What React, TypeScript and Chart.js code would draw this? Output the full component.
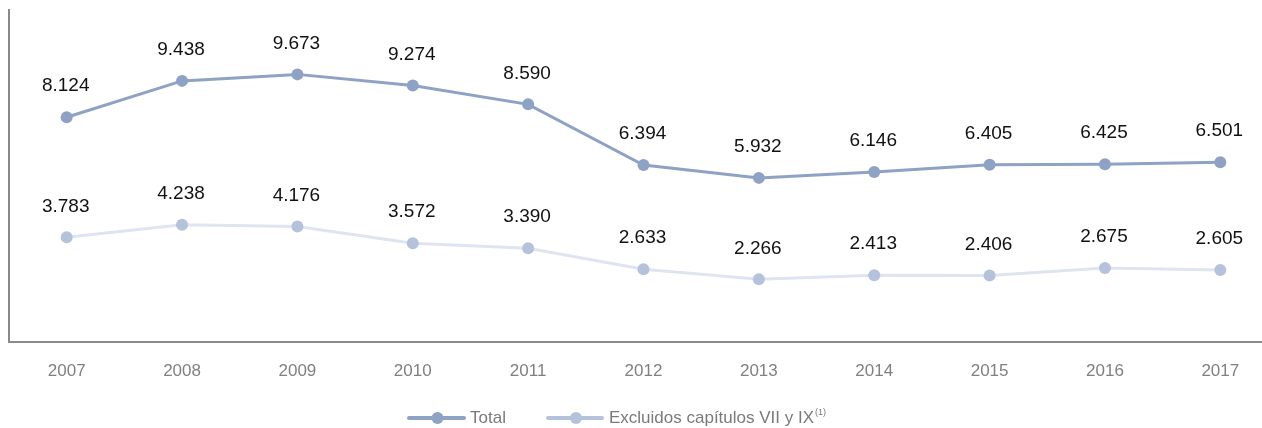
import React, { useEffect, useRef } from "react";
import { Chart, registerables } from "chart.js";

Chart.register(...registerables);

const years = ["2007", "2008", "2009", "2010", "2011", "2012", "2013", "2014", "2015", "2016", "2017"];
const totalValues = [8124, 9438, 9673, 9274, 8590, 6394, 5932, 6146, 6405, 6425, 6501];
const excludedValues = [3783, 4238, 4176, 3572, 3390, 2633, 2266, 2413, 2406, 2675, 2605];
const seriesNames = ["Total", "Excluidos capítulos VII y IX"];
const footnoteMark = "(1)";

const TOTAL_COLOR = "rgb(141,162,196)";
const EXCL_LINE = "rgb(222,229,240)";
const EXCL_POINT = "rgb(180,195,219)";
const FONT = "'Liberation Sans', Arial, Helvetica, sans-serif";

const fmt = (v: number) => {
  const s = String(Math.round(v));
  return s.replace(/\B(?=(\d{3})+(?!\d))/g, ".");
};

const labelPlugin = {
  id: "valueLabels",
  afterDatasetsDraw(chart: any) {
    const ctx = chart.ctx;
    ctx.save();
    ctx.font = `19px ${FONT}`;
    ctx.fillStyle = "#111";
    ctx.textAlign = "center";
    ctx.textBaseline = "middle";
    chart.data.datasets.forEach((ds: any, i: number) => {
      const meta = chart.getDatasetMeta(i);
      meta.data.forEach((pt: any, j: number) => {
        ctx.fillText(fmt(ds.data[j]), pt.x - 1, pt.y - 31);
      });
    });
    ctx.restore();
  },
};

const legendPlugin = {
  id: "customLegend",
  afterDraw(chart: any) {
    const ctx = chart.ctx;
    const y = 418;
    ctx.save();
    const drawMarker = (x0: number, x1: number, line: string, point: string) => {
      ctx.strokeStyle = line;
      ctx.lineWidth = 4;
      ctx.lineCap = "round";
      ctx.beginPath();
      ctx.moveTo(x0, y);
      ctx.lineTo(x1, y);
      ctx.stroke();
      ctx.fillStyle = point;
      ctx.beginPath();
      ctx.arc((x0 + x1) / 2 + 1, y, 6, 0, Math.PI * 2);
      ctx.fill();
    };
    drawMarker(409, 464, TOTAL_COLOR, TOTAL_COLOR);
    drawMarker(548, 602, EXCL_POINT, EXCL_POINT);
    ctx.fillStyle = "#7a7a7a";
    ctx.textBaseline = "middle";
    ctx.textAlign = "left";
    ctx.font = `17px ${FONT}`;
    ctx.fillText(seriesNames[0], 470, y);
    ctx.fillText(seriesNames[1], 609, y);
    const w = ctx.measureText(seriesNames[1]).width;
    ctx.font = `9px ${FONT}`;
    ctx.fillText(footnoteMark, 609 + w + 1, y - 5);
    ctx.restore();
  },
};

export default function App() {
  const ref = useRef<HTMLCanvasElement | null>(null);
  useEffect(() => {
    if (!ref.current) return;
    const chart = new Chart(ref.current, {
      type: "line",
      data: {
        labels: years,
        datasets: [
          {
            label: seriesNames[0],
            data: totalValues,
            borderColor: TOTAL_COLOR,
            backgroundColor: TOTAL_COLOR,
            pointBackgroundColor: TOTAL_COLOR,
            pointBorderWidth: 0,
            pointRadius: 6,
            borderWidth: 3,
            tension: 0,
          },
          {
            label: seriesNames[1],
            data: excludedValues,
            borderColor: EXCL_LINE,
            backgroundColor: EXCL_POINT,
            pointBackgroundColor: EXCL_POINT,
            pointBorderWidth: 0,
            pointRadius: 6,
            borderWidth: 3,
            tension: 0,
          },
        ],
      },
      plugins: [labelPlugin, legendPlugin],
      options: {
        responsive: false,
        animation: false,
        layout: { padding: { left: 9, top: 10, right: 0, bottom: 0 } },
        plugins: { legend: { display: false }, tooltip: { enabled: false } },
        scales: {
          x: {
            offset: true,
            grid: { display: false, drawTicks: false },
            border: { display: true, color: "#8a8a8a", width: 2 },
            ticks: { color: "#808080", font: { family: FONT, size: 17 }, padding: 19 },
            afterFit: (s: any) => {
              s.height = 86;
            },
          },
          y: {
            min: 0,
            max: 12000,
            grid: { display: false, drawTicks: false },
            border: { display: true, color: "#8a8a8a", width: 2 },
            ticks: { display: false },
            afterFit: (s: any) => {
              s.width = 0;
            },
          },
        },
      },
    });
    return () => chart.destroy();
  }, []);
  return (
    <div
      style={{
        position: "fixed",
        top: 0,
        left: 0,
        width: 1262,
        height: 428,
        overflow: "hidden",
        background: "#fff",
      }}
    >
      <canvas ref={ref} width={1284} height={428} style={{ display: "block" }} />
    </div>
  );
}
